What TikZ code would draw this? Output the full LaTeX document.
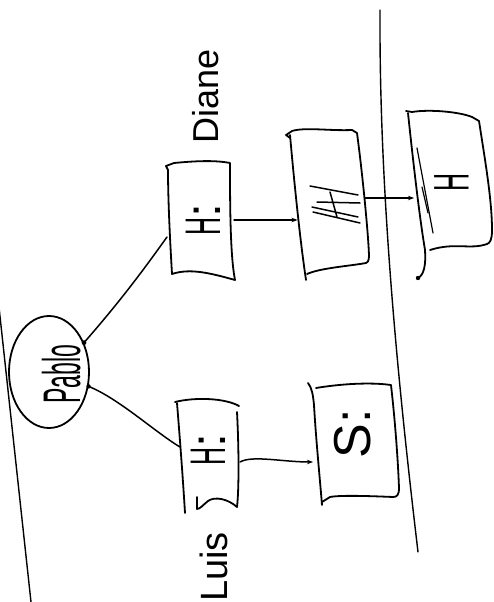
\documentclass[tikz,border=0pt]{standalone}
\usepackage{fontspec}
\setmainfont{Liberation Sans}
\usepackage{graphicx}
\usetikzlibrary{shapes.geometric,arrows.meta,calc}
\begin{document}
\begin{tikzpicture}[x=1pt,y=-1pt,
  pen/.style={line width=1.8pt,line cap=round,line join=round},
  conn/.style={line width=1.5pt,line cap=round},
  tip/.style={-{Stealth[length=6pt,width=4.5pt]}},
  boxarea/.style={inner sep=0pt,outer sep=0pt,draw=none},
  lbl/.style={rotate=90,anchor=base,inner sep=0pt},
  big/.style={font=\fontsize{50}{50}\selectfont}
]
\useasboundingbox (0,0) rectangle (494,602);
\fill[white] (0,0) rectangle (494,602);

% long vertical lines
\draw[pen,line width=1.4pt] (-2,298) -- (31,602);
\draw[pen,line width=1.4pt] (380,10) .. controls (379,200) and (400,400) .. (418,552);

% Pablo
\node[draw,ellipse,pen,minimum width=80pt,minimum height=112pt,inner sep=0pt] (pablo) at (49,372) {};
\node[lbl,font=\fontsize{23}{23}\selectfont] (pablotxt) at (80,374) {\scalebox{1}[2.3]{Pablo}};

% box nodes
\node[boxarea,minimum width=62pt,minimum height=115pt,big] (d1) at (203,220) {\rotatebox{90}{\scalebox{0.5}[1]{H}:}};
\node[boxarea,minimum width=66pt,minimum height=144pt] (d2) at (330.5,203) {};
\node[boxarea,minimum width=71pt,minimum height=131pt,big] (d3) at (451.5,182) {\rotatebox{90}{\scalebox{0.5}[1]{H}}};
\node[boxarea,minimum width=60pt,minimum height=110pt,big] (lb) at (208,450) {\rotatebox{90}{\scalebox{0.5}[1]{H}:}};
\node[boxarea,minimum width=80pt,minimum height=112pt,font=\fontsize{52}{52}\selectfont] (s) at (353,434) {\rotatebox{90}{S:}};

% labels
\node[lbl,font=\fontsize{36}{36}\selectfont] (diane) at (218,96) {Diane};
\node[lbl,font=\fontsize{38}{38}\selectfont] (luis) at (227,567) {Luis};

% outlines: d1
\draw[pen] (168,170) -- (166,166) -- (174,163) .. controls (195,161) and (215,160) .. (230,163) .. controls (230,200) and (230,255) .. (235,280) .. controls (210,273) and (190,268) .. (172,274) .. controls (170,240) and (168,200) .. (168,170);
% d2
\draw[pen] (290,138) -- (286,135) -- (292,131) .. controls (305,127) and (330,131) .. (352,130) -- (357,133) .. controls (362,170) and (368,230) .. (369,255) .. controls (369,262) and (367,263) .. (366,263) .. controls (350,266) and (320,268) .. (307,274);
\draw[pen] (290,135) .. controls (294,180) and (300,240) .. (306,280);
\draw[pen,line width=1.5pt] (310,186) -- (358,195) (317,202) -- (360,203) (312,207) -- (358,217) (313,212) -- (360,223) (330,192) -- (337,217);
% d3
\draw[pen] (406,111) -- (412,112) .. controls (430,109) and (460,112) .. (472,117) -- (479,121) .. controls (485,160) and (492,200) .. (492,230) .. controls (492,240) and (490,243) .. (487,244) .. controls (470,250) and (455,242) .. (430,250);
\draw[pen] (408,113) .. controls (414,170) and (420,220) .. (425,250) .. controls (426,265) and (424,275) .. (418,278);
\fill (418,278) circle (2.2pt);
\draw[pen,line width=1.2pt] (417,148) -- (433,233);
\draw[pen,line width=1.2pt] (422,187) -- (428,213);
% Luis box
\draw[pen] (175,402) .. controls (195,397) and (225,398) .. (239,406);
\draw[pen] (237,412) .. controls (239,450) and (239,490) .. (237,507) .. controls (228,499) and (215,496) .. (208,501) .. controls (203,505) and (200,509) .. (197,509) -- (197,497);
\draw[pen] (177,403) .. controls (180,440) and (183,480) .. (185,513);
% S box
\draw[pen] (308,383) .. controls (312,388) and (313,395) .. (314,405) .. controls (316,440) and (320,480) .. (322,505);
\draw[pen] (316,388) .. controls (340,384) and (370,382) .. (391,385) .. controls (395,420) and (398,460) .. (399,488) .. controls (399,495) and (397,497) .. (393,497) .. controls (370,496) and (340,495) .. (330,497) -- (322,502);

% connectors
\draw[conn] (pablo.40) .. controls +(35,-40) and +(-25,35) .. ($(d1.west)+(-5,17)$);
\fill (pablo.40) circle (2.4pt);
\draw[conn] (pablo.-20) .. controls +(30,12) and +(-25,-15) .. ($(lb.west)+(2,-3)$);
\fill (pablo.-20) circle (2.2pt);
\draw[conn,tip] (d1.east) -- (d1.east -| d2.west);
\draw[conn,tip] ($(d2.east)+(2,-5)$) -- ($(d2.east -| d3.west)+(-2,-5)$);
\coordinate (lbs) at ($(lb.east)+(2,12)$);
\draw[conn,tip] (lbs) .. controls +(12,-7) and +(-30,0) .. (s.west |- lbs);
\end{tikzpicture}
\end{document}
